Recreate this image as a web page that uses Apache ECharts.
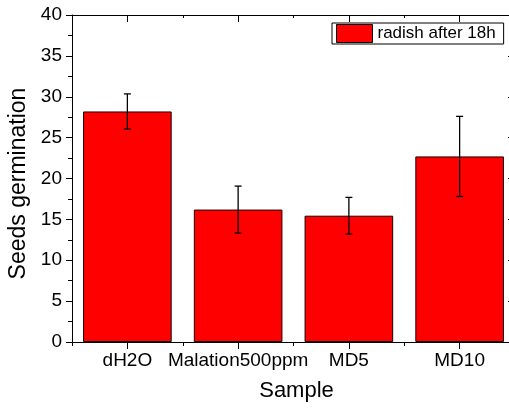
<!DOCTYPE html>
<html>
<head>
<meta charset="utf-8">
<script src="https://cdn.jsdelivr.net/npm/echarts@6/dist/echarts.min.js"></script>
<style>html,body{margin:0;padding:0;background:#fff;}#c{width:509px;height:409px;}</style>
</head>
<body>
<div id="c"></div>
<script>
var categories = ['dH2O', 'Malation500ppm', 'MD5', 'MD10'];
var values = [28.2, 16.2, 15.45, 22.7];
var errors = [2.15, 2.87, 2.24, 4.9];
var seriesName = 'radish after 18h';
var yTicks = [0, 5, 10, 15, 20, 25, 30, 35, 40];

var FONT = '"Liberation Sans", Arial, sans-serif';
var chart = echarts.init(document.getElementById('c'), null, {renderer: 'canvas'});

var errData = values.map(function (v, i) { return [i, v - errors[i], v + errors[i]]; });

function catAxis(pos, ticksInside, tickLen, align, showLabel) {
  return {
    type: 'category', data: categories, position: pos, gridIndex: 0,
    boundaryGap: true,
    axisLine: {show: true, lineStyle: {color: '#000', width: 1}},
    axisTick: {show: true, inside: ticksInside, length: tickLen, alignWithLabel: align, interval: 0, lineStyle: {color: '#000', width: 1}},
    axisLabel: {show: showLabel, interval: 0, color: '#000', fontFamily: FONT, fontSize: 19, margin: 9},
    splitLine: {show: false}
  };
}

var option = {
  animation: false,
  backgroundColor: '#fff',
  grid: {left: 72, width: 443, top: 15, height: 327, containLabel: false, outerBoundsMode: 'none'},
  legend: {
    show: true, data: [{name: seriesName, icon: 'rect'}], left: 332, top: 23,
    orient: 'horizontal',
    backgroundColor: '#fff', borderColor: '#000', borderWidth: 1,
    padding: [1, 8, 1, 4], itemWidth: 36, itemHeight: 18,
    textStyle: {color: '#000', fontFamily: FONT, fontSize: 17},
    itemStyle: {color: '#ff0000', borderColor: '#000', borderWidth: 1}
  },
  xAxis: [
    (function () { var a = catAxis('bottom', false, 7, true, true); a.name = 'Sample'; a.nameLocation = 'middle'; a.nameGap = 38; a.nameTextStyle = {color: '#000', fontFamily: FONT, fontSize: 22, padding: [0, 0, 0, 6]}; return a; })(),
    catAxis('bottom', false, 4, false, false),
    catAxis('top', true, 7, true, false),
    catAxis('top', true, 3, false, false)
  ],
  yAxis: [
    {
      type: 'value', min: 0, max: 40, interval: 5, position: 'left',
      name: 'Seeds germination', nameLocation: 'middle', nameGap: 40,
      nameTextStyle: {color: '#000', fontFamily: FONT, fontSize: 23, padding: [0, 10, 0, 0]},
      axisLine: {show: true, lineStyle: {color: '#000', width: 1}},
      axisTick: {show: true, inside: false, length: 6, lineStyle: {color: '#000'}},
      minorTick: {show: true, splitNumber: 2, length: 4, lineStyle: {color: '#000'}},
      axisLabel: {color: '#000', fontFamily: FONT, fontSize: 19, margin: 10,
        formatter: function (v) { return yTicks.indexOf(v) >= 0 ? String(v) : ''; }},
      splitLine: {show: false}
    },
    {
      type: 'value', min: 0, max: 40, interval: 5, position: 'right',
      axisLine: {show: true, lineStyle: {color: '#000', width: 1}},
      axisTick: {show: true, inside: true, length: 7, lineStyle: {color: '#000'}},
      minorTick: {show: true, splitNumber: 2, length: 4, lineStyle: {color: '#000'}},
      axisLabel: {show: false},
      splitLine: {show: false}
    }
  ],
  series: [
    {
      name: seriesName, type: 'bar', xAxisIndex: 0, yAxisIndex: 0,
      data: values, barWidth: '80%',
      itemStyle: {color: '#ff0000', borderColor: '#1a0000', borderWidth: 1}
    },
    {
      name: 'err', type: 'custom', xAxisIndex: 0, yAxisIndex: 0,
      data: errData, z: 10,
      renderItem: function (params, api) {
        var x = api.value(0);
        var lo = api.coord([x, api.value(1)]);
        var hi = api.coord([x, api.value(2)]);
        var half = 3.5;
        var st = {stroke: '#000', lineWidth: 1.3};
        return {
          type: 'group',
          children: [
            {type: 'line', shape: {x1: lo[0], y1: lo[1], x2: hi[0], y2: hi[1]}, style: st},
            {type: 'line', shape: {x1: hi[0] - half, y1: hi[1], x2: hi[0] + half, y2: hi[1]}, style: st},
            {type: 'line', shape: {x1: lo[0] - half, y1: lo[1], x2: lo[0] + half, y2: lo[1]}, style: st}
          ]
        };
      }
    }
  ]
};
chart.setOption(option);
</script>
</body>
</html>
